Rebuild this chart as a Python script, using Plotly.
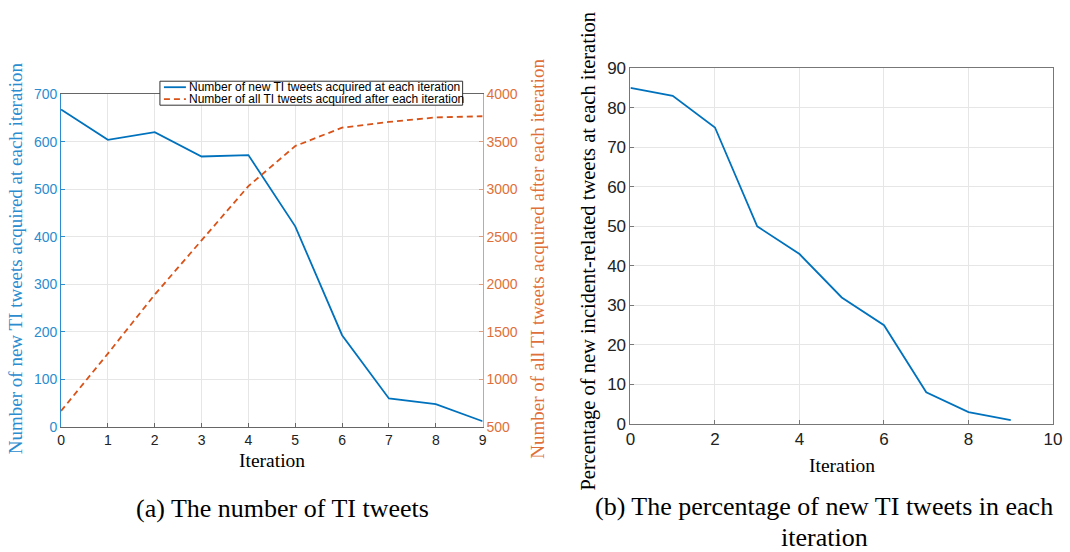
import plotly.graph_objects as go

iterations = [0, 1, 2, 3, 4, 5, 6, 7, 8, 9]
new_tweets = [668, 604, 620, 569, 572, 422, 193, 60, 48, 12]
all_tweets = [668, 1272, 1892, 2461, 3033, 3455, 3648, 3708, 3756, 3768]
percent_new = [85, 83, 75, 50, 43, 32, 25, 8, 3, 1]
legend_labels = ["Number of new TI tweets acquired at each iteration",
                 "Number of all TI tweets acquired after each iteration"]

BLUE = "#0072BD"
BLUE_T = "#2b8ccf"
ORANGE = "#D95319"
ORANGE_T = "#e0703a"
GRID = "#e6e6e6"
SERIF = "Liberation Serif, Times New Roman, serif"
SANS = "Liberation Sans, Arial, sans-serif"

SX, SY, OFF = 0.988, 0.967, 8
W, H = 1076, 564
def px(x): return (x / SX - OFF) / W
def py(y): return 1 - (y / SY - OFF) / H

fig = go.Figure()
fig.add_trace(go.Scatter(x=iterations, y=new_tweets, mode="lines", name=legend_labels[0],
                         line=dict(color=BLUE, width=1.8), xaxis="x", yaxis="y"))
fig.add_trace(go.Scatter(x=iterations, y=all_tweets, mode="lines", name=legend_labels[1],
                         line=dict(color=ORANGE, width=1.8, dash="6px,4px"), xaxis="x", yaxis="y2"))
fig.add_trace(go.Scatter(x=iterations, y=percent_new, mode="lines", showlegend=False,
                         line=dict(color=BLUE, width=1.8), xaxis="x3", yaxis="y3"))

tick_font_a = dict(family=SANS, size=14)
tick_font_b = dict(family=SANS, size=17, color="#222222")
fig.update_layout(
    width=W, height=H,
    margin=dict(l=0, r=0, t=0, b=0),
    paper_bgcolor="white", plot_bgcolor="white",
    showlegend=False,
    xaxis=dict(domain=[px(64), px(486)], range=[0, 9], dtick=1, anchor="y",
               showgrid=True, gridcolor=GRID, showline=True, linecolor="#666666",
               mirror=True, ticks="inside", ticklen=4, tickcolor="#666666",
               zeroline=False, tickfont=dict(tick_font_a, color="#222222")),
    yaxis=dict(domain=[py(426), py(93)], range=[0, 700], dtick=100, anchor="x",
               showgrid=True, gridcolor=GRID, showline=True, linecolor=BLUE_T,
               ticks="inside", ticklen=4, tickcolor=BLUE_T, zeroline=False,
               tickfont=dict(tick_font_a, color=BLUE_T)),
    yaxis2=dict(overlaying="y", side="right", anchor="x", range=[500, 4000], dtick=500,
                showgrid=False, showline=True, linecolor="#e0a080",
                ticks="inside", ticklen=4, tickcolor="#e0a080", zeroline=False,
                tickfont=dict(tick_font_a, color=ORANGE_T)),
    xaxis3=dict(domain=[px(634), px(1057)], range=[0, 10], dtick=2, anchor="y3",
                showgrid=True, gridcolor=GRID, showline=True, linecolor="#777777",
                mirror=True, ticks="inside", ticklen=4, tickcolor="#777777",
                zeroline=False, tickfont=tick_font_b, ticklabeloverflow="allow"),
    yaxis3=dict(domain=[py(423), py(67)], range=[0, 90], dtick=10, anchor="x3",
                showgrid=True, gridcolor=GRID, showline=True, linecolor="#777777",
                mirror=True, ticks="inside", ticklen=4, tickcolor="#777777",
                zeroline=False, tickfont=tick_font_b),
)

# compact MATLAB-style legend
fig.add_shape(type="rect", xref="paper", yref="paper",
              x0=px(163), x1=px(466), y0=py(104), y1=py(80),
              fillcolor="white", line=dict(color="#333333", width=1), layer="above")
fig.add_shape(type="line", xref="paper", yref="paper", x0=px(167), x1=px(189),
              y0=py(86), y1=py(86), line=dict(color=BLUE, width=1.8), layer="above")
fig.add_shape(type="line", xref="paper", yref="paper", x0=px(167), x1=px(189),
              y0=py(98), y1=py(98), line=dict(color=ORANGE, width=1.8, dash="6px,4px"), layer="above")
for lbl, yy in zip(legend_labels, [86, 98]):
    fig.add_annotation(xref="paper", yref="paper", showarrow=False, text=lbl,
                       x=px(190), y=py(yy), xanchor="left", yanchor="middle",
                       font=dict(family=SANS, size=12, color="black"))

annos = [
    dict(text="Number of new TI tweets acquired at each iteration", x=px(18), y=py(257),
         textangle=-90, font=dict(family=SERIF, size=19, color=BLUE_T)),
    dict(text="Number of all TI tweets acquired after each iteration", x=px(541), y=py(258),
         textangle=-90, font=dict(family=SERIF, size=19, color=ORANGE_T)),
    dict(text="Iteration", x=px(275), y=py(460), font=dict(family=SERIF, size=19.5, color="black")),
    dict(text="Percentage of new incident-related tweets at each iteration", x=px(592), y=py(250),
         textangle=-90, font=dict(family=SERIF, size=20.5, color="black")),
    dict(text="Iteration", x=px(846), y=py(465), font=dict(family=SERIF, size=19.5, color="black")),
    dict(text="(a) The number of TI tweets", x=px(286), y=py(508),
         font=dict(family=SERIF, size=26, color="black")),
    dict(text="(b) The percentage of new TI tweets in each", x=px(828), y=py(506),
         font=dict(family=SERIF, size=26, color="black")),
    dict(text="iteration", x=px(828), y=py(537),
         font=dict(family=SERIF, size=26, color="black")),
]
for a in annos:
    fig.add_annotation(xref="paper", yref="paper", showarrow=False,
                       xanchor="center", yanchor="middle", **a)

fig.write_html("out.html")
